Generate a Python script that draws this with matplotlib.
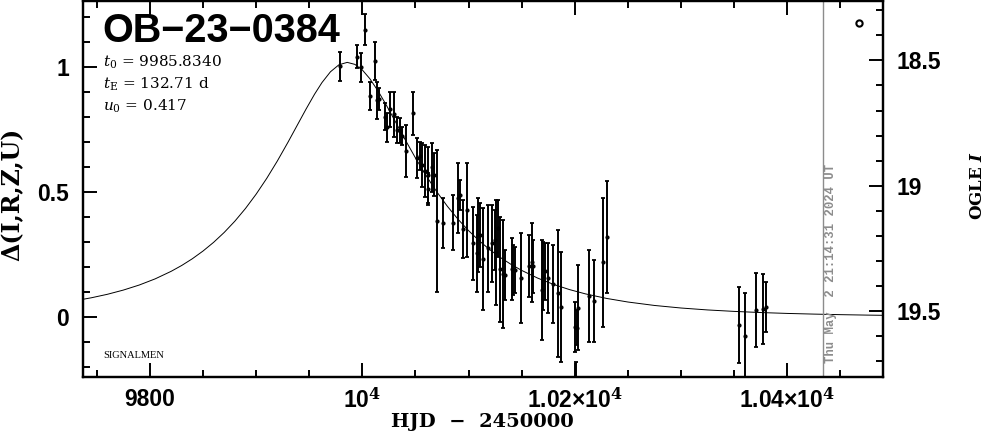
import matplotlib
matplotlib.use("Agg")
import matplotlib.pyplot as plt
from matplotlib.ticker import MultipleLocator
import matplotlib.transforms as mtransforms

plt.rcParams["mathtext.fontset"] = "dejavuserif"

# photometry (HJD-2450000, delta mag, error)
hjd = [9979.1, 9995.3, 9998.8, 10002.6, 10007.3, 10012.0, 10013.6, 10015.8, 10021.4, 10023.0,
       10026.1, 10029.9, 10032.4, 10035.5, 10037.1, 10041.2, 10048.1, 10051.8, 10054.4, 10056.0,
       10059.1, 10061.9, 10062.2, 10065.4, 10067.6, 10070.1, 10076.3, 10085.7, 10090.5, 10092.0,
       10095.2, 10098.4, 10104.6, 10107.8, 10109.3, 10110.9, 10114.0, 10118.7, 10121.9, 10125.0,
       10125.7, 10128.1, 10129.7, 10132.2, 10134.4, 10140.7, 10142.2, 10143.8, 10149.2, 10157.3,
       10159.5, 10161.1, 10169.0, 10170.5, 10172.1, 10175.2, 10179.9, 10184.6, 10187.1, 10200.3,
       10200.8, 10201.7, 10203.4, 10212.9, 10218.5, 10226.4, 10230.2, 10354.1, 10359.8, 10370.5,
       10377.1, 10380.2]
delta = [1.002, 1.040, 0.997, 1.148, 0.884, 1.023, 0.866, 0.871, 0.801, 0.758,
         0.830, 0.810, 0.748, 0.745, 0.724, 0.664, 0.814, 0.636, 0.644, 0.608,
         0.584, 0.568, 0.512, 0.598, 0.569, 0.385, 0.376, 0.378, 0.476, 0.488,
         0.352, 0.429, 0.295, 0.255, 0.329, 0.329, 0.233, 0.275, 0.295, 0.309,
         0.259, 0.355, 0.192, 0.172, 0.169, 0.193, 0.189, 0.189, 0.157, 0.205,
         0.219, 0.203, 0.109, 0.166, 0.183, 0.156, 0.132, 0.096, 0.042, -0.037,
         -0.294, -0.041, 0.039, 0.086, 0.066, 0.219, 0.319, -0.031, -0.073, 0.030,
         0.033, 0.042]
err = [0.058, 0.046, 0.057, 0.062, 0.056, 0.076, 0.074, 0.044, 0.054, 0.057,
       0.070, 0.090, 0.052, 0.050, 0.037, 0.103, 0.086, 0.080, 0.056, 0.087,
       0.103, 0.112, 0.064, 0.097, 0.087, 0.283, 0.100, 0.110, 0.140, 0.060,
       0.116, 0.187, 0.146, 0.153, 0.147, 0.127, 0.204, 0.173, 0.153, 0.120,
       0.209, 0.113, 0.209, 0.216, 0.100, 0.124, 0.100, 0.092, 0.180, 0.123,
       0.157, 0.106, 0.200, 0.136, 0.114, 0.140, 0.156, 0.253, 0.219, 0.100,
       0.116, 0.070, 0.170, 0.183, 0.163, 0.256, 0.223, 0.153, 0.169, 0.148,
       0.140, 0.100]

# model curve as drawn in the reference
model_hjd = [9730, 9745, 9760, 9775, 9790, 9805, 9820, 9830, 9840, 9850, 9860, 9870,
             9880, 9890, 9900, 9910, 9920, 9930, 9940, 9947, 9955, 9962, 9970, 9978,
             9985.8, 9993, 10000, 10007, 10015, 10022, 10030, 10040, 10050, 10060,
             10070, 10080, 10090, 10100, 10110, 10120, 10130, 10140, 10150, 10165,
             10180, 10195, 10210, 10230, 10250, 10275, 10300, 10325, 10350, 10375,
             10400, 10425, 10450, 10475, 10500]
model_delta = [0.0665, 0.0780, 0.0918, 0.1086, 0.1288, 0.1534, 0.1834, 0.2069, 0.2337,
               0.2643, 0.2991, 0.3387, 0.3835, 0.4342, 0.4911, 0.5543, 0.6237, 0.6984,
               0.7762, 0.8306, 0.8900, 0.9365, 0.9796, 1.0076, 1.0171, 1.0091, 0.9868,
               0.9523, 0.9016, 0.8509, 0.7893, 0.7112, 0.6359, 0.5655, 0.5012, 0.4432,
               0.3916, 0.3458, 0.3054, 0.2698, 0.2385, 0.2111, 0.1871, 0.1565, 0.1313,
               0.1106, 0.0935, 0.0753, 0.0610, 0.0473, 0.0371, 0.0294, 0.0236, 0.0190,
               0.0155, 0.0128, 0.0106, 0.0088, 0.0074]

xticks = [9800, 10000, 10200, 10400]
xticklabels = ["9800", r"10$^{\mathbf{4}}$", r"1.02×10$^{\mathbf{4}}$", r"1.04×10$^{\mathbf{4}}$"]
BASE_MAG = 19.525
NOW_HJD = 10434.1

TICKFONT = dict(family="Liberation Sans", weight="bold", size=16.5)

fig = plt.figure(figsize=(9.86, 4.34), dpi=100)
ax = fig.add_axes([0.0839, 0.132, 0.8113, 0.8657])
ax.set_xlim(9736.8, 10489.8)
ax.set_ylim(-0.237, 1.262)

ax.plot(model_hjd, model_delta, color="black", lw=0.7)
ax.errorbar(hjd, delta, yerr=err, fmt="o", ms=2, color="black", ecolor="black",
            elinewidth=1.4, capsize=1.5, capthick=1.3)
ax.axvline(NOW_HJD, color="#8c8c8c", lw=1)

ax.set_xticks(xticks)
ax.set_xticklabels(xticklabels, fontdict=TICKFONT)
ax.xaxis.set_minor_locator(MultipleLocator(50))
ax.set_yticks([0, 0.5, 1])
ax.set_yticklabels(["0", "0.5", "1"], fontdict=TICKFONT)
ax.yaxis.set_minor_locator(MultipleLocator(0.1))
ax.tick_params(which="both", direction="in", top=True, right=False, width=1.4)
ax.tick_params(which="major", length=10)
ax.tick_params(which="minor", length=5)
ax.tick_params(axis="x", pad=8)
ax.tick_params(axis="y", pad=10)
for s in ax.spines.values():
    s.set_linewidth(1.6)

ax2 = ax.twinx()
ax2.set_ylim(BASE_MAG + 0.237, BASE_MAG - 1.262)
ax2.set_yticks([18.5, 19, 19.5])
ax2.set_yticklabels(["18.5", "19", "19.5"], fontdict=TICKFONT)
ax2.yaxis.set_minor_locator(MultipleLocator(0.1))
ax2.tick_params(which="both", direction="in", width=1.4, pad=10)
ax2.tick_params(which="major", length=10)
ax2.tick_params(which="minor", length=5)
for s in ax2.spines.values():
    s.set_linewidth(1.6)

# annotations
ax.text(0.025, 0.919, "OB−23−0384", transform=ax.transAxes, ha="left", va="center",
        family="Liberation Sans", weight="bold", fontsize=28.5)
pfont = dict(family="DejaVu Serif", fontsize=11, transform=ax.transAxes, ha="left", va="center")
ax.text(0.025, 0.838, r"$t_0$ = 9985.8340", **pfont)
ax.text(0.025, 0.779, r"$t_{\rm E}$ = 132.71 d", **pfont)
ax.text(0.025, 0.720, r"$u_0$ = 0.417", **pfont)
ax.text(0.026, 0.0564, "SIGNALMEN", transform=ax.transAxes, ha="left", va="center",
        family="Liberation Serif", fontsize=7.5)
ax.plot([0.9708], [0.9406], "o", transform=ax.transAxes, ms=4.5, mfc="white",
        mec="black", mew=1.5, clip_on=False)

trans = mtransforms.blended_transform_factory(ax.transData, ax.transAxes)
ax.text(10440.9, 0.036, "Thu May  2 21:14:31 2024 UT", transform=trans, rotation=90,
        ha="center", va="bottom", color="#8c8c8c", family="Liberation Mono",
        weight="bold", fontsize=8.8)

fig.text(12 / 986, 1 - 194 / 434, "Δ(I,R,Z,U)", rotation=90, ha="center", va="center",
         family="DejaVu Serif", weight="bold", fontsize=17)
fig.text(482 / 986, 1 - 422 / 434, "HJD  −  2450000", ha="center", va="center",
         family="DejaVu Serif", weight="bold", fontsize=14)
fig.text(978 / 986, 1 - 185 / 434, r"OGLE $\mathbfit{I}$", rotation=90, ha="center",
         va="center", family="DejaVu Serif", weight="bold", fontsize=12)

fig.savefig("out.png", dpi=100, facecolor="white")
